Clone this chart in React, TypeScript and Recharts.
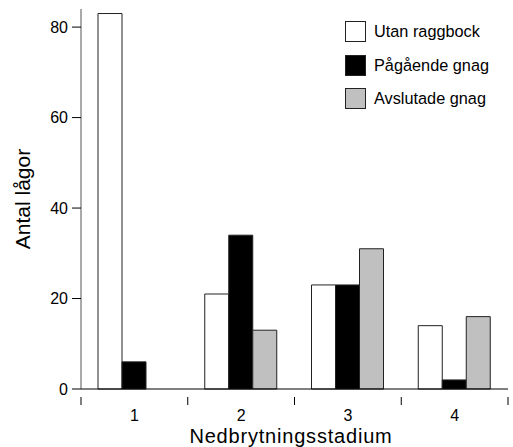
import { BarChart, Bar, XAxis, YAxis, Legend } from "recharts";

const stages = ["1", "2", "3", "4"];
const utanRaggbock = [83, 21, 23, 14];
const pagaendeGnag = [6, 34, 23, 2];
const avslutadeGnag = [0, 13, 31, 16];
const yTicks = [0, 20, 40, 60, 80];

const series = [
  { key: "utan", name: "Utan raggbock", fill: "#ffffff" },
  { key: "pagaende", name: "Pågående gnag", fill: "#000000" },
  { key: "avslutade", name: "Avslutade gnag", fill: "#c0c0c0" },
];

const data = stages.map((s, i) => ({
  stage: s,
  utan: utanRaggbock[i],
  pagaende: pagaendeGnag[i],
  avslutade: avslutadeGnag[i],
}));

const FONT = '"Liberation Sans", Arial, Helvetica, sans-serif';

// x ticks sit on the category boundaries, labels in the middle
function StageTick(props: any) {
  const { x, y, payload, index } = props;
  const bw = 106.75;
  const left = x - bw / 2;
  return (
    <g>
      <line x1={left} y1={y} x2={left} y2={y + 8} stroke="#000" />
      {index === stages.length - 1 && (
        <line x1={x + bw / 2} y1={y} x2={x + bw / 2} y2={y + 8} stroke="#000" />
      )}
      <text x={x} y={y + 24} textAnchor="middle" fontSize={16} fill="#000" fontFamily={FONT}>
        {payload.value}
      </text>
    </g>
  );
}

function LegendBox() {
  return (
    <div style={{ fontFamily: FONT, fontSize: 16.3, color: "#000" }}>
      {series.map((s) => (
        <div key={s.key} style={{ display: "flex", alignItems: "center", height: 21, marginBottom: 12.5 }}>
          <div style={{ width: 19, height: 19, background: s.fill, border: "1px solid #222", marginRight: 8 }} />
          <span>{s.name}</span>
        </div>
      ))}
    </div>
  );
}

export default function App() {
  return (
    <div style={{ position: "absolute", left: 0, top: 0, background: "#fff" }}>
      <BarChart
        width={513}
        height={447}
        data={data}
        margin={{ top: 9, right: 5, bottom: 28, left: 0 }}
        barCategoryGap={17}
        barGap={0}
      >
        <XAxis
          dataKey="stage"
          height={30}
          tickLine={false}
          axisLine={{ stroke: "#000" }}
          tick={<StageTick />}
          interval={0}
          label={{
            content: () => (
              <text
                x={291}
                y={442.5}
                textAnchor="middle"
                fontSize={20}
                letterSpacing={0.8}
                fill="#000"
                fontFamily={FONT}
              >
                Nedbrytningsstadium
              </text>
            ),
          }}
        />
        <YAxis
          width={81}
          domain={[0, 84]}
          ticks={yTicks}
          tickSize={9}
          tickMargin={4}
          tickLine={{ stroke: "#000" }}
          axisLine={{ stroke: "#555" }}
          tick={{ fill: "#000", fontSize: 16, fontFamily: FONT }}
          label={{
            content: () => (
              <text
                x={0}
                y={0}
                transform="translate(30 199) rotate(-90)"
                textAnchor="middle"
                fontSize={21}
                fill="#000"
                fontFamily={FONT}
              >
                Antal lågor
              </text>
            ),
          }}
        />
        <Legend
          layout="vertical"
          align="center"
          verticalAlign="middle"
          content={<LegendBox />}
          wrapperStyle={{ position: "absolute", left: 345, top: 21, width: 165 }}
        />
        {series.map((s) => (
          <Bar
            key={s.key}
            dataKey={s.key}
            name={s.name}
            fill={s.fill}
            stroke="#222"
            strokeWidth={1}
            isAnimationActive={false}
          />
        ))}
      </BarChart>
    </div>
  );
}
